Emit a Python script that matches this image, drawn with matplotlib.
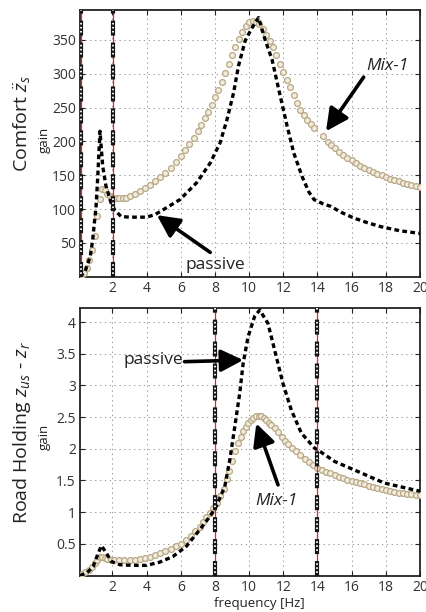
import matplotlib
matplotlib.use("Agg")
import matplotlib.pyplot as plt

plt.rcParams['font.family'] = ['Open Sans', 'DejaVu Sans']
plt.rcParams['mathtext.fontset'] = 'custom'
plt.rcParams['mathtext.it'] = 'Open Sans:italic'
plt.rcParams['mathtext.rm'] = 'Open Sans'
plt.rcParams['lines.scale_dashes'] = False

# ---------------- data ----------------
# Comfort (top) : Mix-1 (circles)
top_mix_f = [0.2, 0.35, 0.5, 0.65, 0.8, 0.95, 1.1, 1.25, 1.4, 1.55, 1.7, 1.85, 2.0,
             2.2, 2.4, 2.6, 2.8, 3.0, 3.3, 3.6, 3.9, 4.2, 4.5, 4.8, 5.1, 5.4, 5.7, 6.0,
             6.25, 6.5, 6.75, 7.0, 7.2, 7.4, 7.6, 7.8, 8.0, 8.2, 8.4, 8.6, 8.8, 9.0, 9.2,
             9.4, 9.6, 9.8, 10.0, 10.2, 10.4, 10.6, 10.8, 11.0, 11.2, 11.4, 11.6, 11.8,
             12.0, 12.2, 12.4, 12.6, 12.8, 13.0, 13.2, 13.4, 13.6, 13.8, 14.3, 14.6, 14.8,
             15.0, 15.25, 15.5, 15.75, 16.0, 16.25, 16.5, 16.75, 17.0, 17.25, 17.5, 17.75,
             18.0, 18.25, 18.5, 18.75, 19.0, 19.25, 19.5, 19.75, 20.0]
top_mix_g = [2, 6, 13, 24, 40, 60, 90, 115, 129, 128, 122, 119, 117,
             116, 116, 116, 117, 119, 122, 126, 131, 136, 141, 147, 153, 161, 170, 179,
             187, 196, 205, 215, 224, 234, 244, 254, 265, 276, 288, 301, 314, 327, 340,
             352, 362, 370, 376, 378, 377, 373, 366, 358, 349, 339, 327, 315,
             303, 291, 280, 268, 257, 247, 239, 231, 225, 220, 208, 199, 195,
             190, 185, 180, 176, 172, 168, 164, 161, 158, 155, 152, 150,
             147, 145, 143, 141, 139, 137, 135.5, 134, 132]
# Comfort (top) : passive
top_pas_f = [0.1, 0.4, 0.7, 0.84, 1.04, 1.14, 1.2, 1.27, 1.43, 1.62, 1.92, 2.12, 2.5, 3.0,
             4.0, 4.5, 4.97, 5.95, 6.93, 7.72, 8.3, 8.7, 9.09, 9.38, 9.77, 10.17, 10.55,
             10.95, 11.34, 11.73, 12.22, 12.61, 13.1, 13.5, 13.8, 14.3, 14.77, 15.4, 16.1,
             16.9, 17.7, 18.8, 20.0]
top_pas_g = [0, 8, 30, 54, 104, 148, 180, 215, 163, 134, 109, 99, 89, 88,
             88, 92, 99, 114, 139, 168, 198, 232, 272, 312, 349, 368, 383,
             349, 321, 277, 223, 183, 148, 125, 114, 108, 104, 95, 87,
             80, 74, 68, 64]

# Road holding (bottom) : Mix-1
bot_mix_f = [0.2, 0.4, 0.6, 0.8, 0.95, 1.1, 1.25, 1.4, 1.55, 1.7, 1.9, 2.1, 2.4, 2.7, 3.0,
             3.3, 3.6, 3.9, 4.2, 4.5, 4.8, 5.1, 5.4, 5.7, 6.0, 6.3, 6.6, 6.85, 7.1, 7.3,
             7.5, 7.7, 7.9, 8.1, 8.3, 8.5, 8.7, 8.85, 9.0, 9.2, 9.35, 9.5, 9.65, 9.8, 9.95,
             10.1, 10.25, 10.4, 10.55, 10.7, 10.85, 11.0, 11.15, 11.3, 11.5, 11.7, 11.9,
             12.1, 12.3, 12.5, 12.75, 13.0, 13.25, 13.5, 13.75, 14.0, 14.25, 14.5, 14.75,
             15.0, 15.25, 15.5, 15.75, 16.0, 16.25, 16.5, 16.75, 17.0, 17.25, 17.5, 17.75,
             18.0, 18.25, 18.5, 18.75, 19.0, 19.25, 19.5, 19.75, 20.0]
bot_mix_g = [0.02, 0.05, 0.08, 0.14, 0.2, 0.25, 0.29, 0.29, 0.27, 0.26, 0.25, 0.24, 0.24,
             0.24, 0.245, 0.25, 0.26, 0.275, 0.29, 0.32, 0.35, 0.38, 0.42, 0.46, 0.5, 0.56,
             0.63, 0.7, 0.77, 0.85, 0.92, 0.99, 1.06, 1.15, 1.25, 1.36, 1.52, 1.65, 1.8,
             1.97, 2.09, 2.19, 2.28, 2.35, 2.41, 2.46, 2.49, 2.51, 2.515, 2.51, 2.49, 2.45,
             2.41, 2.38, 2.33, 2.26, 2.19, 2.13, 2.07, 2.02, 1.96, 1.9, 1.84, 1.79, 1.74,
             1.7, 1.67, 1.64, 1.61, 1.59, 1.56, 1.54, 1.51, 1.49, 1.47, 1.46, 1.44, 1.42,
             1.4, 1.38, 1.36, 1.35, 1.34, 1.32, 1.31, 1.3, 1.29, 1.28, 1.275, 1.27]
# Road holding (bottom) : passive
bot_pas_f = [0.1, 0.5, 0.87, 1.16, 1.36, 1.65, 1.94, 2.43, 3.2, 4.0, 4.76, 5.54, 6.32,
             7.1, 7.5, 8.0, 8.57, 8.87, 9.16, 9.45, 9.65, 9.94, 10.32, 10.62, 11.1, 11.49,
             11.98, 12.47, 13.05, 13.83, 14.03, 15.0, 16.55, 17.9, 20.0]
bot_pas_g = [0, 0.04, 0.14, 0.35, 0.47, 0.35, 0.22, 0.17, 0.16, 0.16, 0.21, 0.3, 0.46,
             0.72, 0.86, 1.05, 1.4, 1.83, 2.35, 2.88, 3.35, 3.77, 4.09, 4.19, 3.98, 3.56,
             3.03, 2.61, 2.25, 2.01, 1.98, 1.8, 1.62, 1.46, 1.33]

top_vlines = [0.15, 2.05]
bot_vlines = [8.0, 14.0]

top_yticks = [50, 100, 150, 200, 250, 300, 350]
bot_yticks = [0.5, 1, 1.5, 2, 2.5, 3, 3.5, 4]
xticks = [2, 4, 6, 8, 10, 12, 14, 16, 18, 20]

# ---------------- figure ----------------
W, H = 427, 612
fig = plt.figure(figsize=(W / 100, H / 100), dpi=100)

def px_axes(l, t, r, b):
    return fig.add_axes([l / W, 1 - b / H, (r - l) / W, (b - t) / H])

ax1 = px_axes(80, 9.5, 420, 276.7)
ax2 = px_axes(80, 307.5, 420, 575.5)

tan_edge = '#b9a883'
tan_face = '#f1ecdf'

def vline(ax, x):
    ax.axvline(x, color='#ee2222', lw=0.9, zorder=5)
    ax.axvline(x, color='#151515', lw=3.0, ls=(0, (10.8, 5.0)), zorder=6,
               dash_capstyle='butt')
    ax.axvline(x, color='white', lw=1.3, ls=(13.6, (1.2, 1.7, 1.2, 1.7, 1.2, 8.8)),
               zorder=7, dash_capstyle='butt')

def style(ax, ylim, yticks):
    ax.set_xlim(0.1, 20)
    ax.set_ylim(*ylim)
    ax.set_xticks(xticks)
    ax.set_yticks(yticks)
    ax.set_yticklabels([('%g' % v) for v in yticks])
    ax.grid(True, color='#9a9a9a', ls=(0, (1, 2.5)), lw=0.7)
    ax.tick_params(direction='in', length=3.5, width=0.8, top=True, right=True,
                   labelsize=10, pad=3, colors='#222222', labelcolor='#333333')
    for s in ax.spines.values():
        s.set_linewidth(1.3)
        s.set_color('#222222')

# top
ax1.plot(top_mix_f, top_mix_g, ls='none', marker='o', ms=4.2, mew=0.9,
         mec=tan_edge, mfc=tan_face, zorder=3)
ax1.plot(top_pas_f, top_pas_g, color='black', lw=2.4, ls=(0, (3.4, 2.4)),
         dash_capstyle='butt', zorder=4)
for x in top_vlines:
    vline(ax1, x)
style(ax1, (0, 395), top_yticks)

# bottom
ax2.plot(bot_mix_f, bot_mix_g, ls='none', marker='o', ms=4.2, mew=0.9,
         mec=tan_edge, mfc=tan_face, zorder=3)
ax2.plot(bot_pas_f, bot_pas_g, color='black', lw=2.4, ls=(0, (3.4, 2.4)),
         dash_capstyle='butt', zorder=4)
for x in bot_vlines:
    vline(ax2, x)
style(ax2, (0, 4.23), bot_yticks)

# annotations
arr = dict(arrowstyle='-|>,head_length=0.9,head_width=0.45', lw=2.6, color='black',
           shrinkA=0, shrinkB=0, mutation_scale=15)
ax1.annotate('', xy=(4.6, 91), xytext=(7.72, 36), arrowprops=arr, zorder=8)
ax1.text(8.0, 17, 'passive', fontsize=12.5, ha='center', va='center', color='#222222')
ax1.annotate('', xy=(14.5, 215), xytext=(16.7, 295), arrowprops=arr, zorder=8)
ax1.text(18.1, 311, 'Mix-1', fontsize=12.5, style='italic', ha='center', va='center',
         color='#222222')

ax2.annotate('', xy=(9.65, 3.40), xytext=(6.22, 3.375), arrowprops=arr, zorder=8)
ax2.text(6.15, 3.40, 'passive', fontsize=12.5, ha='right', va='center', color='#222222')
ax2.annotate('', xy=(10.42, 2.40), xytext=(11.69, 1.43), arrowprops=arr, zorder=8)
ax2.text(11.6, 1.17, 'Mix-1', fontsize=12.5, style='italic', ha='center', va='center',
         color='#222222')

# y labels
fig.text(22 / W, 1 - 124 / H, r'Comfort $\ddot{z}_s$', rotation=90, fontsize=14,
         ha='center', va='center', color='#222222')
fig.text(44 / W, 1 - 140 / H, 'gain', rotation=90, fontsize=9.5,
         ha='center', va='center', color='#222222')
fig.text(22 / W, 1 - 433 / H, r'Road Holding $z_{us}$ - $z_r$', rotation=90, fontsize=14,
         ha='center', va='center', color='#222222')
fig.text(44 / W, 1 - 437 / H, 'gain', rotation=90, fontsize=9.5,
         ha='center', va='center', color='#222222')

fig.text(259 / W, 1 - 603 / H, 'frequency [Hz]', fontsize=9.5, ha='center', va='center',
         color='#222222')

fig.savefig('out.png', dpi=100)
